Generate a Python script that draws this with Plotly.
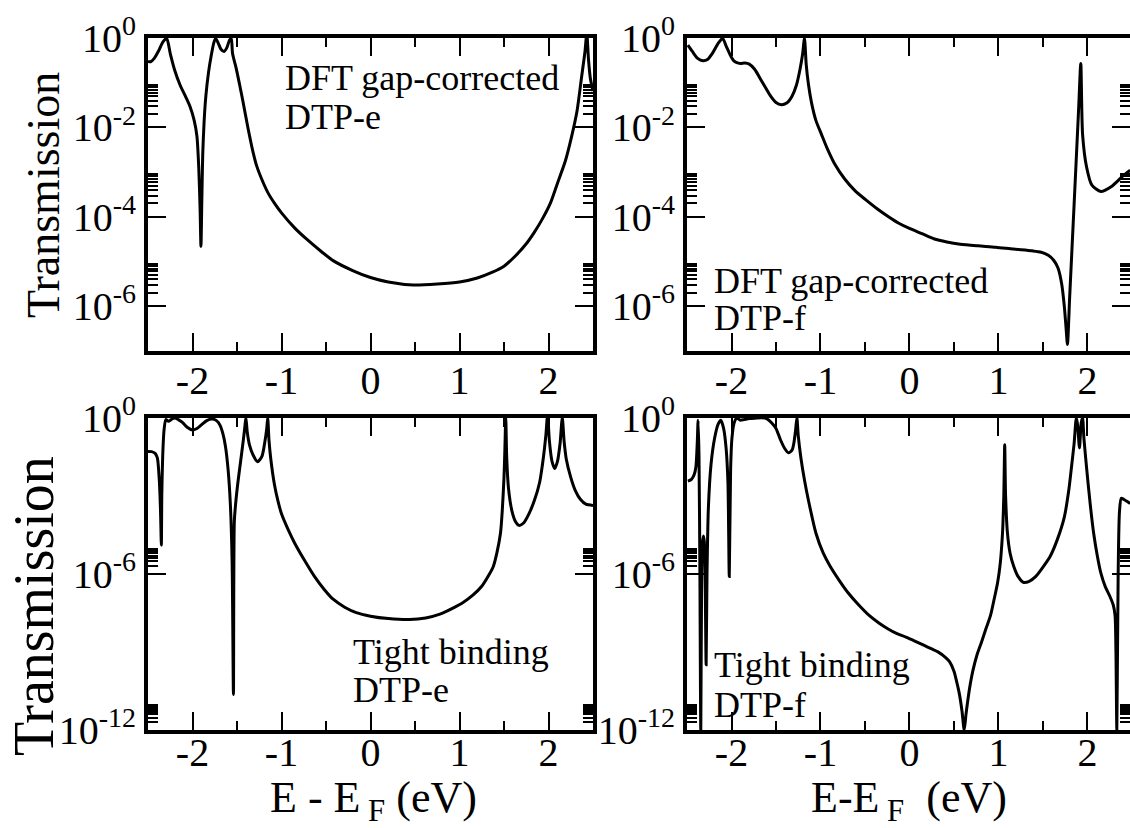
import plotly.graph_objects as go

W, H = 1130, 828

# ---------------- data (E - E_F in eV, transmission T) ----------------
E_dft_e = [-2.50, -2.47, -2.43, -2.38, -2.33, -2.29, -2.25, -2.20, -2.14, -2.08, -2.03, -1.98,
           -1.95, -1.93, -1.915, -1.905, -1.895, -1.885, -1.87, -1.85, -1.82, -1.79, -1.76, -1.74,
           -1.71, -1.68, -1.645, -1.615, -1.585, -1.565, -1.55, -1.509, -1.47, -1.434, -1.38, -1.323,
           -1.28, -1.23, -1.15, -1.07, -1.00, -0.85, -0.72, -0.55, -0.42, -0.20, 0.00, 0.20, 0.48, 0.75,
           1.00, 1.20, 1.37, 1.50, 1.63, 1.75, 1.84, 1.93, 2.02, 2.10, 2.19, 2.26, 2.32, 2.37,
           2.41, 2.43, 2.45, 2.47, 2.50]
T_dft_e = [3.0e-1, 2.95e-1, 3.5e-1, 5.2e-1, 8.3e-1, 9.8e-1, 4.5e-1, 1.9e-1, 8.9e-2, 5.0e-2, 3.0e-2, 1.4e-2,
           6.3e-3, 1.3e-3, 1.6e-4, 2.2e-5, 2.5e-4, 2.5e-3, 1.3e-2, 5.0e-2, 1.7e-1, 4.0e-1, 7.9e-1, 9.8e-1,
           7.6e-1, 5.6e-1, 5.0e-1, 6.0e-1, 8.9e-1, 9.8e-1, 4.5e-1, 2.1e-1, 8.9e-2, 3.9e-2, 1.05e-2, 3.0e-3,
           1.4e-3, 7.6e-4, 3.4e-4, 1.9e-4, 1.23e-4, 5.6e-5, 3.2e-5, 1.66e-5, 1.05e-5, 6.3e-6, 4.4e-6, 3.5e-6, 3.0e-6, 3.15e-6,
           3.5e-6, 4.3e-6, 5.8e-6, 7.9e-6, 1.35e-5, 2.5e-5, 4.5e-5, 8.9e-5, 2.0e-4, 5.6e-4, 1.8e-3, 6.3e-3, 2.3e-2, 1.26e-1,
           5.0e-1, 1.25e0, 3.2e-1, 1.26e-1, 6.5e-2]

E_dft_f = [-2.49, -2.44, -2.38, -2.32, -2.27, -2.21, -2.15, -2.10, -2.06, -2.02, -1.98, -1.94, -1.90,
           -1.85, -1.80, -1.74, -1.68, -1.62, -1.56, -1.50, -1.44, -1.38, -1.32, -1.27, -1.23, -1.20,
           -1.18, -1.16, -1.135, -1.10, -1.05, -0.99, -0.93, -0.83, -0.73, -0.61, -0.49, -0.36, -0.24,
           -0.12, 0.00, 0.14, 0.28, 0.42, 0.57, 0.77, 0.97, 1.17, 1.38, 1.48, 1.56, 1.62, 1.67, 1.71,
           1.74, 1.76, 1.775, 1.80, 1.85, 1.90, 1.925, 1.945, 1.99, 2.05, 2.15, 2.27, 2.39, 2.48]
T_dft_f = [6.9e-1, 5.0e-1, 3.5e-1, 3.1e-1, 3.3e-1, 4.7e-1, 7.6e-1, 9.8e-1, 6.6e-1, 4.4e-1, 3.2e-1, 2.8e-1, 2.7e-1,
           2.75e-1, 2.6e-1, 2.0e-1, 1.26e-1, 7.9e-2, 5.0e-2, 3.6e-2, 3.2e-2, 3.5e-2, 5.0e-2, 8.9e-2, 2.0e-1, 4.5e-1,
           9.8e-1, 2.5e-1, 9.1e-2, 3.5e-2, 1.4e-2, 7.1e-3, 3.6e-3, 1.4e-3, 7.1e-4, 3.8e-4, 2.4e-4, 1.5e-4, 1.02e-4,
           7.2e-5, 5.5e-5, 4.2e-5, 3.2e-5, 2.75e-5, 2.45e-5, 2.25e-5, 2.1e-5, 1.9e-5, 1.74e-5, 1.62e-5, 1.38e-5, 1.07e-5, 7.1e-6, 3.2e-6,
           1.0e-6, 3.2e-7, 1.4e-7, 1.6e-6, 1.9e-4, 2.4e-2, 2.7e-1, 7.1e-3, 1.3e-3, 5.1e-4, 3.7e-4, 4.8e-4, 7.9e-4, 1.1e-3]

E_tb_e = [-2.50, -2.46, -2.42, -2.395, -2.375, -2.36, -2.35, -2.345, -2.335, -2.32, -2.30, -2.27, -2.24,
          -2.20, -2.16, -2.11, -2.06, -2.00, -1.95, -1.90, -1.84, -1.78, -1.73, -1.69, -1.66, -1.63,
          -1.60, -1.575, -1.555, -1.54, -1.53, -1.515, -1.49, -1.46, -1.43, -1.41, -1.40, -1.385, -1.36,
          -1.32, -1.27, -1.22, -1.19, -1.165, -1.155, -1.14, -1.12, -1.08, -1.04, -1.00, -0.92, -0.85,
          -0.74, -0.63, -0.52, -0.42, -0.29, -0.16, 0.00, 0.20, 0.44, 0.62, 0.78, 0.92, 1.04, 1.15,
          1.25, 1.33, 1.38, 1.42, 1.46, 1.48, 1.50, 1.51, 1.52, 1.53, 1.55, 1.59, 1.63, 1.67, 1.72,
          1.78, 1.84, 1.90, 1.94, 1.97, 1.99, 2.01, 2.04, 2.07, 2.10, 2.13, 2.155, 2.175, 2.20, 2.25,
          2.30, 2.36, 2.42, 2.50]
T_tb_e = [5.0e-2, 4.9e-2, 4.2e-2, 2.8e-2, 5.0e-3, 3.2e-4, 1.26e-5, 1.0e-3, 3.2e-2, 3.2e-1, 8.3e-1, 7.1e-1, 8.3e-1,
          9.5e-1, 8.3e-1, 6.3e-1, 4.2e-1, 3.3e-1, 3.8e-1, 5.2e-1, 7.6e-1, 8.7e-1, 7.6e-1, 5.0e-1, 2.5e-1, 7.9e-2,
          1.0e-2, 5.0e-4, 3.2e-6, 2.3e-11, 1.0e-4, 5.0e-4, 3.2e-3, 2.0e-2, 1.26e-1, 5.0e-1, 9.8e-1, 2.8e-1, 8.9e-2,
          3.7e-2, 2.0e-2, 3.2e-2, 1.0e-1, 4.0e-1, 9.8e-1, 1.26e-1, 2.5e-2, 2.75e-3, 6.3e-4, 2.0e-4, 4.5e-5, 1.45e-5,
          3.2e-6, 7.9e-7, 2.5e-7, 1.05e-7, 5.2e-8, 3.2e-8, 2.35e-8, 1.9e-8, 1.74e-8, 2.0e-8, 2.8e-8, 4.7e-8, 7.9e-8, 1.5e-7,
          3.3e-7, 8.9e-7, 1.9e-6, 6.3e-6, 3.5e-5, 2.5e-4, 5.0e-3, 6.3e-2, 9.8e-1, 3.2e-2, 2.0e-3, 2.5e-4, 1.0e-4, 7.2e-5, 8.9e-5,
          2.0e-4, 6.3e-4, 3.2e-3, 2.5e-2, 2.0e-1, 1.26e0, 1.26e-1, 2.0e-2, 1.1e-2, 2.0e-2, 1.0e-1, 9.8e-1, 1.26e-1, 2.5e-2, 5.0e-3,
          1.6e-3, 7.1e-4, 4.7e-4, 4.2e-4]

E_tb_f = [-2.49, -2.45, -2.42, -2.40, -2.385, -2.375, -2.365, -2.355, -2.345, -2.335, -2.325, -2.315, -2.305,
          -2.295, -2.285, -2.275, -2.26, -2.23, -2.19, -2.15, -2.12, -2.09, -2.06, -2.04, -2.025, -2.01,
          -1.995, -1.97, -1.94, -1.90, -1.86, -1.80, -1.72, -1.66, -1.60, -1.55, -1.50, -1.45, -1.40,
          -1.36, -1.32, -1.30, -1.28, -1.265, -1.25, -1.22, -1.18, -1.135, -1.05, -0.97, -0.89, -0.79,
          -0.69, -0.57, -0.45, -0.34, -0.24, -0.14, -0.04, 0.06, 0.16, 0.25, 0.32, 0.40, 0.45, 0.50,
          0.53, 0.56, 0.59, 0.615, 0.635, 0.65, 0.68, 0.71, 0.76, 0.81, 0.86, 0.91, 0.95, 0.99, 1.02,
          1.045, 1.06, 1.07, 1.08, 1.10, 1.13, 1.17, 1.22, 1.28, 1.34, 1.42, 1.50, 1.58, 1.66, 1.74,
          1.79, 1.82, 1.85, 1.875, 1.89, 1.91, 1.93, 1.945, 1.96, 1.99, 2.03, 2.07, 2.11, 2.15, 2.20,
          2.25, 2.29, 2.31, 2.32, 2.33, 2.345, 2.36, 2.38, 2.41, 2.48]
T_tb_f = [3.6e-3, 4.2e-3, 6.3e-3, 1.26e-2, 1.0e-1, 7.9e-1, 3.2e-2, 1.0e-6, 1.0e-12, 1.0e-6, 1.6e-5, 2.8e-5, 1.6e-5,
          3.2e-7, 3.2e-10, 1.0e-6, 3.2e-4, 1.6e-2, 1.6e-1, 5.6e-1, 7.9e-1, 4.0e-1, 6.3e-2, 3.2e-3, 7.9e-7, 1.0e-2,
          1.6e-1, 6.3e-1, 9.5e-1, 7.9e-1, 8.3e-1, 9.1e-1, 9.5e-1, 9.8e-1, 8.9e-1, 6.3e-1, 3.8e-1, 1.4e-1, 6.3e-2,
          4.4e-2, 5.6e-2, 1.0e-1, 3.2e-1, 9.8e-1, 2.0e-1, 2.8e-2, 4.0e-3, 6.5e-4, 3.5e-5, 6.3e-6, 1.9e-6, 5.6e-7,
          1.86e-7, 6.3e-8, 2.45e-8, 1.26e-8, 7.6e-9, 5.0e-9, 3.7e-9, 2.6e-9, 1.8e-9, 1.3e-9, 1.0e-9, 6.3e-10, 4.2e-10, 1.8e-10,
          7.2e-11, 2.5e-11, 5.4e-12, 1.0e-12, 4.0e-12, 1.0e-11, 5.0e-11, 1.74e-10, 7.9e-10, 2.4e-9, 7.9e-9, 2.45e-8, 1.0e-7, 4.5e-7, 2.5e-6,
          3.5e-5, 1.0e-3, 8.9e-2, 1.0e-3, 4.0e-5, 6.3e-6, 2.0e-6, 7.9e-7, 4.7e-7, 5.0e-7, 7.9e-7, 1.8e-6, 4.6e-6, 2.0e-5, 1.5e-4,
          1.6e-3, 1.2e-2, 1.0e-1, 9.8e-1, 5.0e-1, 6.8e-2, 6.3e-1, 9.8e-1, 1.6e-1, 1.2e-2, 5.0e-4, 3.5e-5, 5.0e-6, 1.07e-6, 3.2e-7,
          1.4e-7, 6.3e-8, 2.5e-8, 1.0e-9, 1.0e-12, 1.0e-6, 2.5e-4, 7.9e-4, 7.1e-4, 5.0e-4]

panel_text = [("DFT gap-corrected", "DTP-e"), ("DFT gap-corrected", "DTP-f"),
              ("Tight binding", "DTP-e"), ("Tight binding", "DTP-f")]
x_ticks = [-2, -1, 0, 1, 2]
y_ticks_top = [1, 1e-2, 1e-4, 1e-6]
y_text_top = ["10<sup>0</sup>", "10<sup>-2</sup>", "10<sup>-4</sup>", "10<sup>-6</sup>"]
y_ticks_bot = [1, 1e-6, 1e-12]
y_text_bot = ["10<sup>0</sup>", "10<sup>-6</sup>", "10<sup>-12</sup>"]
minor_top = [k * 10.0 ** e for e in (-2, -4, -6) for k in range(2, 10)]
minor_bot = [k * 10.0 ** e for e in (-6, -12) for k in range(2, 10)]

# ---------------- layout helpers ----------------
FONT = "'Liberation Serif', 'Times New Roman', Tinos, 'Nimbus Roman', 'DejaVu Serif', serif"
def px_x(p): return p / W
def px_y(p): return 1 - p / H

col_dom = [[px_x(148), px_x(593)], [px_x(687), 1.0]]
row_dom = [[px_y(351), px_y(38)], [px_y(730), px_y(417.5)]]
x_range = [[-2.5, 2.5], [-2.5, 2.478]]
x_standoff = [-9, -16]

fig = go.Figure()
series = [(E_dft_e, T_dft_e), (E_dft_f, T_dft_f), (E_tb_e, T_tb_e), (E_tb_f, T_tb_f)]
for i, (ex, ty) in enumerate(series):
    n = "" if i == 0 else str(i + 1)
    fig.add_trace(go.Scatter(x=ex, y=ty, mode="lines", xaxis="x" + n, yaxis="y" + n,
                             line=dict(color="black", width=3, shape="spline", smoothing=0.7),
                             showlegend=False, hoverinfo="skip"))

for i in range(4):
    r, c = divmod(i, 2)
    n = "" if i == 0 else str(i + 1)
    top = r == 0
    fig.layout["xaxis" + n] = dict(
        domain=col_dom[c], range=x_range[c], anchor="y" + n, automargin=False,
        showline=True, linewidth=4, linecolor="black", mirror="allticks",
        ticks="inside", ticklen=18, tickwidth=2, tickcolor="black",
        tickmode="array", tickvals=x_ticks, ticktext=[str(v) for v in x_ticks],
        tickfont=dict(family=FONT, size=40, color="black"), ticklabelstandoff=x_standoff[r],
        minor=dict(dtick=0.5, tick0=0, ticks="inside", ticklen=9, tickwidth=2, tickcolor="black"),
        showgrid=False, zeroline=False,
    )
    fig.layout["yaxis" + n] = dict(
        domain=row_dom[r], type="log", range=[-7, 0] if top else [-12, 0], anchor="x" + n,
        automargin=False,
        showline=True, linewidth=4, linecolor="black", mirror="allticks",
        ticks="inside", ticklen=18, tickwidth=2, tickcolor="black",
        tickmode="array",
        tickvals=y_ticks_top if top else y_ticks_bot,
        ticktext=y_text_top if top else y_text_bot,
        tickfont=dict(family=FONT, size=40, color="black"),
        minor=dict(tickmode="array", tickvals=minor_top if top else minor_bot,
                   ticks="inside", ticklen=10, tickwidth=1.5, tickcolor="black"),
        showgrid=False, zeroline=False,
    )

fig.update_layout(template="none", width=W, height=H, margin=dict(l=0, r=0, t=0, b=0, pad=0),
                  paper_bgcolor="white", plot_bgcolor="white",
                  font=dict(family=FONT, color="black"))

def add_text(x, y, text, size, angle=0, xanchor="center"):
    fig.add_annotation(x=px_x(x), y=px_y(y), xref="paper", yref="paper", text=text,
                       showarrow=False, textangle=angle, xanchor=xanchor, yanchor="middle",
                       font=dict(family=FONT, size=size, color="black"))

# y axis titles
add_text(44, 195, "Transmission", 46, angle=-90)
add_text(34, 606, "Transmission", 56, angle=-90)
# x axis titles
add_text(373, 800, "E - E<sub> F</sub> (eV)", 44)
add_text(909, 800, "E-E<sub> F</sub>  (eV)", 44)
# panel labels (x left, y cap-center line1, line2)
text_pos = [(283, 78, 117), (712, 281, 318), (351, 652, 690), (712, 665, 705)]
for (l1, l2), (xl, y1, y2) in zip(panel_text, text_pos):
    add_text(xl, y1, l1, 36, xanchor="left")
    add_text(xl, y2, l2, 36, xanchor="left")

fig.write_html("out.html", include_plotlyjs=True, config={"displayModeBar": False})
